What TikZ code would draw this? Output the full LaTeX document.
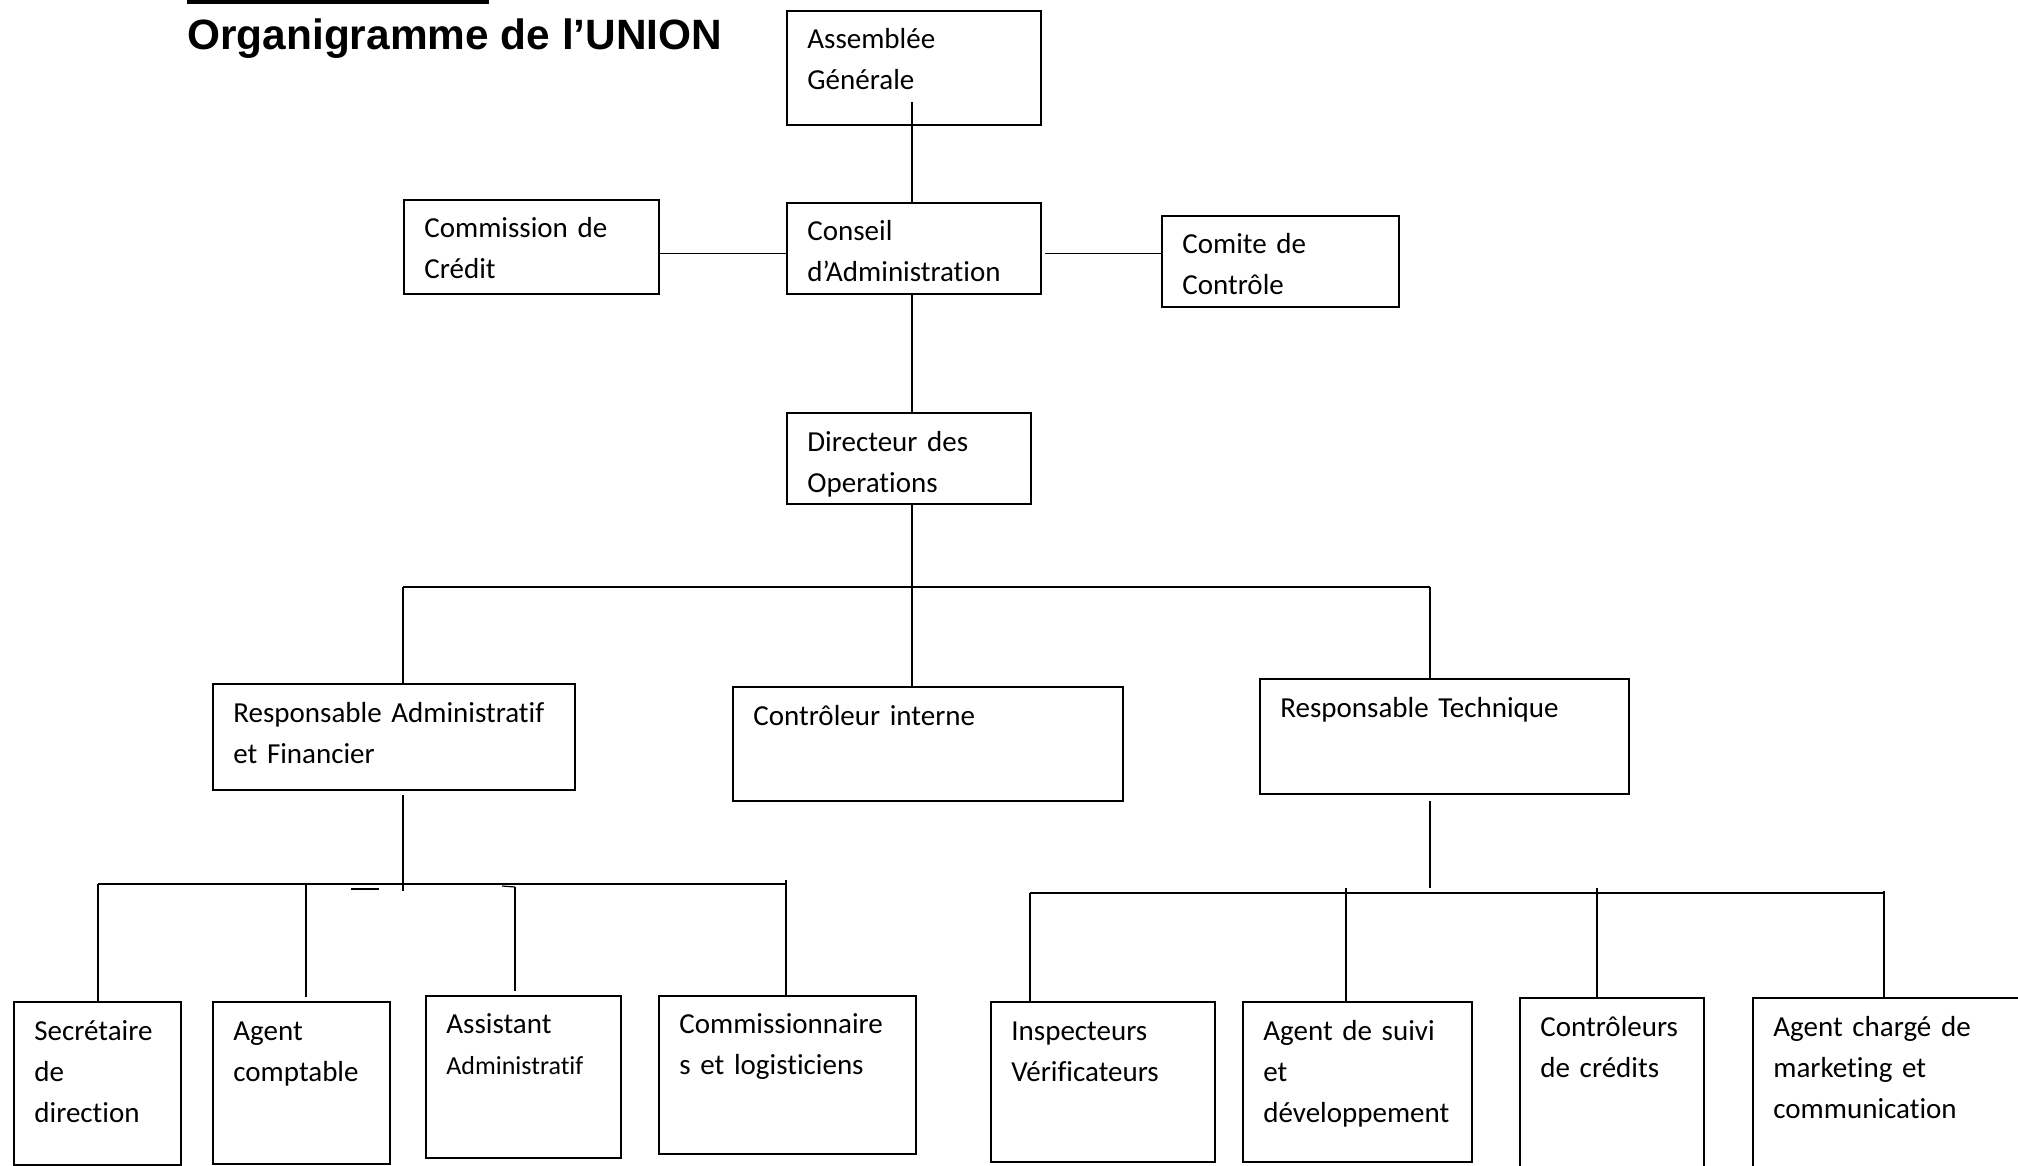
\documentclass[tikz,border=0pt]{standalone}
\usepackage{fontspec}
\setmainfont{Carlito}[Ligatures={NoCommon}]
\newfontfamily\titlefont{Liberation Sans}
\usetikzlibrary{calc}

\tikzset{
  unit/.style={draw=black, line width=0.9pt, anchor=north west, inner sep=0pt},
  txt/.style={anchor=base west, inner sep=0pt, text width=170pt, align=left,
    font=\fontsize{14.5}{20.5}\selectfont},
  link/.style={black, line width=0.6pt},
  bus/.style={black, line width=1pt}
}

\begin{document}
\begin{tikzpicture}[x=0.5pt, y=-0.5pt]
    \useasboundingbox (0,0) rectangle (2018,1166);
    % title
    \fill[black] (187,0) rectangle (489,4);
    \node[anchor=base west, inner sep=0pt, font=\titlefont\bfseries\fontsize{21.2}{25}\selectfont] (title) at (187,50) {Organigramme de l’UNION};
    % top of the chart
    \node[unit, minimum width=127pt, minimum height=57pt] (ag) at (786,10) {};
    \node[txt] (ag-t) at ([shift={(21,39)}]ag.north west) {Assemblée\\Générale};
    \node[unit, minimum width=127.5pt, minimum height=47pt] (cdc) at (403,199) {};
    \node[txt] (cdc-t) at ([shift={(21,39)}]cdc.north west) {Commission de\\Crédit};
    \node[unit, minimum width=127pt, minimum height=45.5pt] (ca) at (786,202) {};
    \node[txt] (ca-t) at ([shift={(21,39)}]ca.north west) {Conseil\\d’Administration};
    \node[unit, minimum width=118.5pt, minimum height=45.5pt] (cc) at (1161,215) {};
    \node[txt] (cc-t) at ([shift={(21,39)}]cc.north west) {Comite de\\Contrôle};
    \node[unit, minimum width=122pt, minimum height=45.5pt] (do) at (786,412) {};
    \node[txt] (do-t) at ([shift={(21,39)}]do.north west) {Directeur des\\Operations};
    % second level
    \node[unit, minimum width=181pt, minimum height=53pt] (raf) at (212,683) {};
    \node[txt] (raf-t) at ([shift={(21,39)}]raf.north west) {Responsable Administratif\\et Financier};
    \node[unit, minimum width=195pt, minimum height=57pt] (ci) at (732,686) {};
    \node[txt] (ci-t) at ([shift={(21,39)}]ci.north west) {Contrôleur interne};
    \node[unit, minimum width=184.5pt, minimum height=57.5pt] (rt) at (1259,678) {};
    \node[txt] (rt-t) at ([shift={(21,39)}]rt.north west) {Responsable Technique};
    % staff of the administrative side
    \node[unit, minimum width=83.5pt, minimum height=81.5pt] (sec) at (13,1001) {};
    \node[txt] (sec-t) at ([shift={(21,39)}]sec.north west) {Secrétaire\\de\\direction};
    \node[unit, minimum width=88.5pt, minimum height=81pt] (ac) at (212,1001) {};
    \node[txt] (ac-t) at ([shift={(21,39)}]ac.north west) {Agent\\comptable};
    \node[unit, minimum width=97.5pt, minimum height=81pt] (aa) at (425,995) {};
    \node[txt] (aa-t) at ([shift={(21,38)}]aa.north west) {Assistant\\{\fontsize{13}{20.5}\selectfont Administratif}};
    \node[unit, minimum width=128.5pt, minimum height=79pt] (cl) at (658,995) {};
    \node[txt] (cl-t) at ([shift={(21,38)}]cl.north west) {Commissionnaire\\s et logisticiens};
    % staff of the technical side
    \node[unit, minimum width=112pt, minimum height=80pt] (iv) at (990,1001) {};
    \node[txt] (iv-t) at ([shift={(21,39)}]iv.north west) {Inspecteurs\\Vérificateurs};
    \node[unit, minimum width=114.5pt, minimum height=80pt] (as) at (1242,1001) {};
    \node[txt] (as-t) at ([shift={(21,39)}]as.north west) {Agent de suivi\\et\\développement};
    \node[unit, minimum width=92pt, minimum height=100pt] (ccr) at (1519,997) {};
    \node[txt] (ccr-t) at ([shift={(21,39)}]ccr.north west) {Contrôleurs\\de crédits};
    \node[unit, minimum width=144pt, minimum height=100pt] (acm) at (1752,997) {};
    \node[txt] (acm-t) at ([shift={(21,39)}]acm.north west) {Agent chargé de\\marketing et\\communication};
    % lines between the boxes
    \draw[link] ([shift={(-1pt,12pt)}]ag.south) -- ([xshift=-1pt]ca.north);
    \draw[link] ([yshift=-2.5pt]cdc.east |- ca.west) -- ([yshift=-2.5pt]ca.west);
    \draw[link] ([shift={(1.5pt,-2.5pt)}]ca.east) -- ([yshift=-2.5pt]cc.west |- ca.east);
    \draw[link] ([xshift=-1pt]ca.south) -- ([xshift=-1pt]ca.south |- do.north);
    % first bus
    \coordinate (b1l) at (403,587);
    \coordinate (b1r) at (1430,587);
    \draw[bus] (b1l) -- (b1r);
    \draw[link] ([xshift=1.5pt]do.south) -- ([xshift=1.5pt]do.south |- ci.north);
    \draw[link] (b1l) -- (b1l |- raf.north);
    \draw[link] (b1r) -- (b1r |- rt.north);
    % second bus
    \coordinate (b2l) at (98,884);
    \coordinate (b2r) at (786,884);
    \coordinate (d2) at (306,884);
    \coordinate (d3) at (515,887);
    \draw[link] ([yshift=-2pt]b1l |- raf.south) -- (403,891);
    \draw[bus] (b2l) -- (b2r);
    \draw[link] (b2l) -- (b2l |- sec.north);
    \draw[link] (d2) -- ([yshift=2pt]d2 |- ac.north);
    \draw[link] (d3) -- ([yshift=2pt]d3 |- aa.north);
    \draw[link] (502,886) -- (d3);
    \draw[link] ([yshift=2pt]b2r) -- (b2r |- cl.north);
    \draw[bus] (351,889) -- (379,889);
    % third bus
    \coordinate (b3l) at (1030,893);
    \coordinate (b3r) at (1884,893);
    \coordinate (e2) at (1346,888);
    \coordinate (e3) at (1597,888);
    \draw[link] ([yshift=-3pt]b1r |- rt.south) -- (1430,888);
    \draw[bus] (b3l) -- (b3r);
    \draw[link] (b3l) -- (b3l |- iv.north);
    \draw[link] (e2) -- (e2 |- as.north);
    \draw[link] (e3) -- (e3 |- ccr.north);
    \draw[link] ([yshift=1pt]b3r) -- (b3r |- acm.north);
\end{tikzpicture}
\end{document}
